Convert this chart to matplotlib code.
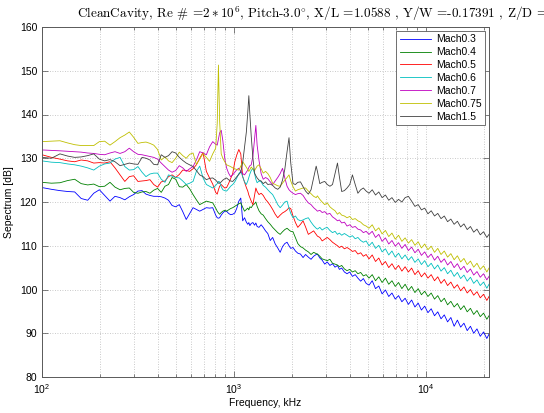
import matplotlib
matplotlib.use("Agg")
import matplotlib.pyplot as plt
from matplotlib.ticker import LogLocator, FixedLocator, NullFormatter

plt.rcParams['mathtext.fontset'] = 'cm'
plt.rcParams['font.family'] = ['Liberation Sans', 'DejaVu Sans']

freq_hz = [
    100, 112, 124, 136, 148, 160, 173, 186, 199, 212,
    226, 240, 255, 270, 285, 300, 316, 332, 348, 365,
    382, 400, 418, 437, 456, 476, 497, 519, 541, 564,
    588, 612, 637, 663, 690, 718, 746, 775, 803, 818,
    830, 842, 858, 875, 895, 915, 937, 960, 985,
    1010, 1035, 1060, 1085, 1110, 1135, 1160, 1180, 1195, 1210,
    1230, 1255, 1280, 1300, 1320, 1350, 1385, 1420, 1460, 1500,
    1545, 1590, 1640, 1690, 1740, 1790, 1840, 1890, 1935, 1975,
    2030, 2090, 2150, 2220, 2290, 2360, 2440, 2520, 2600, 2680,
    2720, 2800, 2880, 2970, 3060, 3160, 3260, 3360, 3460, 3540,
    3640, 3760, 3880, 4010, 4140, 4280, 4420, 4570, 4720, 4880,
    5050, 5250, 5460, 5680, 5910, 6150, 6400, 6650, 6920, 7200,
    7490, 7790, 8100, 8420, 8760, 9110, 9470, 9850, 10240, 10650,
    11080, 11520, 11980, 12460, 12960, 13480, 14020, 14580, 15160, 15770,
    16400, 17050, 17730, 18440, 19180, 19950, 20750, 21300,
]

mach_labels = ["Mach0.3", "Mach0.4", "Mach0.5", "Mach0.6", "Mach0.7", "Mach0.75", "Mach1.5"]

spl_mach03 = [
    123.3, 122.9, 122.6, 122.4, 122.3, 120.8, 120.4, 122.0, 122.8, 121.5,
    120.2, 121.3, 121.0, 120.5, 121.2, 121.7, 122.5, 122.6, 121.8, 121.5,
    121.3, 121.3, 121.2, 120.9, 120.4, 119.2, 118.9, 119.4, 117.8, 116.0,
    117.4, 118.7, 118.3, 117.9, 118.3, 118.7, 118.6, 118.7, 117.0, 116.4,
    116.3, 116.4, 117.0, 117.5, 117.9, 117.9, 117.4, 117.1, 117.2,
    117.5, 118.6, 120.2, 120.9, 115.7, 116.4, 115.4, 114.9, 115.3, 114.6,
    115.1, 115.3, 114.7, 115.2, 114.4, 114.2, 114.8, 114.2, 113.4, 112.8,
    111.2, 111.9, 110.4, 109.5, 108.5, 109.8, 110.5, 110.8, 110.0, 109.4,
    109.6, 108.8, 108.3, 108.1, 107.3, 108.0, 107.4, 106.9, 107.6, 108.0,
    108.1, 107.2, 106.7, 105.8, 106.3, 105.5, 105.9, 105.1, 105.5, 104.6,
    104.9, 104.0, 103.6, 104.0, 103.0, 103.4, 102.6, 101.9, 102.5, 101.4,
    101.0, 102.0, 100.2, 100.8, 99.0, 99.9, 98.4, 99.2, 97.8, 98.6,
    97.2, 98.0, 96.6, 97.6, 96.0, 96.9, 95.3, 96.2, 94.7, 95.6,
    94.0, 94.9, 93.3, 94.2, 92.6, 93.6, 91.6, 93.0, 91.4, 92.3,
    90.6, 91.6, 90.0, 91.0, 89.3, 90.3, 88.8, 89.8,
]

spl_mach04 = [
    124.5, 124.3, 124.4, 124.9, 125.2, 124.2, 123.9, 124.1, 123.5, 123.6,
    124.5, 123.4, 122.8, 123.1, 123.2, 122.2, 122.0, 122.3, 122.4, 122.0,
    122.7, 123.1, 122.2, 123.6, 124.0, 125.6, 125.2, 123.5, 123.4, 124.0,
    123.0, 121.7, 120.5, 119.4, 119.8, 120.2, 120.0, 119.8, 118.6, 117.9,
    117.5, 117.2, 117.6, 117.9, 118.1, 117.9, 118.2, 118.5, 118.7,
    119.0, 119.3, 119.6, 119.8, 118.8, 117.9, 118.3, 118.6, 118.2, 118.9,
    118.7, 119.3, 119.6, 120.0, 119.0, 118.0, 117.3, 117.0, 116.2, 115.5,
    114.9, 114.2, 113.6, 113.0, 112.6, 113.2, 113.7, 114.0, 113.6, 113.3,
    113.2, 111.8, 110.5, 109.8, 109.5, 109.0, 108.6, 108.0, 108.5, 108.2,
    108.1, 107.6, 107.0, 106.8, 106.6, 106.9, 106.0, 105.8, 105.6, 105.2,
    105.5, 104.7, 104.3, 104.6, 104.0, 104.3, 103.6, 103.9, 103.1, 103.4,
    102.6, 103.4, 102.0, 102.9, 101.6, 102.6, 101.2, 102.0, 100.7, 101.6,
    100.2, 101.2, 99.8, 100.7, 99.3, 100.2, 98.8, 99.6, 98.4, 99.2,
    97.8, 98.6, 97.2, 98.0, 96.5, 97.3, 96.0, 96.8, 95.4, 96.3,
    94.9, 95.7, 94.3, 95.2, 93.8, 94.6, 93.2, 94.0,
]

spl_mach05 = [
    130.8, 130.2, 129.8, 129.4, 129.2, 129.6, 129.4, 128.9, 129.0, 128.9,
    129.2, 127.8, 126.2, 124.7, 125.8, 126.0, 124.7, 124.8, 124.9, 125.1,
    124.0, 123.4, 124.6, 124.8, 125.8, 126.2, 125.6, 126.3, 127.3, 127.2,
    127.0, 127.6, 128.5, 130.0, 131.3, 127.0, 125.5, 124.1, 122.2, 121.8,
    122.8, 123.6, 124.0, 123.6, 123.2, 123.3, 124.2, 125.3, 126.5,
    129.2, 130.8, 132.0, 131.0, 125.8, 124.5, 123.3, 122.5, 121.6, 121.0,
    120.2, 119.4, 121.5, 123.2, 122.4, 121.7, 122.0, 121.5, 120.6, 120.0,
    119.2, 118.3, 117.2, 116.4, 117.0, 117.5, 117.8, 118.2, 118.7, 118.5,
    116.8, 115.3, 114.2, 114.9, 115.7, 114.3, 112.6, 113.0, 113.4, 112.6,
    112.2, 111.9, 111.1, 111.5, 111.9, 111.4, 110.8, 110.4, 110.0, 109.6,
    109.9, 109.3, 109.6, 109.2, 108.7, 108.9, 108.1, 108.4, 107.6, 108.0,
    107.0, 107.9, 106.4, 107.2, 105.6, 106.4, 105.0, 105.9, 104.6, 105.5,
    104.2, 105.2, 104.0, 104.9, 103.4, 104.3, 102.9, 103.8, 102.6, 103.4,
    102.0, 102.9, 101.4, 102.3, 100.9, 101.7, 100.3, 101.1, 99.7, 100.6,
    99.2, 100.0, 98.7, 99.5, 98.1, 98.9, 97.5, 98.4,
]

spl_mach06 = [
    129.4, 129.1, 129.0, 128.7, 128.5, 128.2, 127.8, 127.3, 128.2, 128.7,
    128.9, 129.8, 130.2, 128.1, 127.3, 127.4, 128.1, 126.8, 125.8, 126.4,
    126.6, 126.6, 125.2, 124.5, 126.2, 125.9, 125.6, 125.5, 124.8, 124.0,
    124.3, 124.7, 127.0, 128.2, 125.5, 124.0, 123.6, 123.2, 123.8, 124.2,
    124.7, 124.6, 123.5, 122.8, 122.6, 122.5, 123.0, 123.6, 124.0,
    124.6, 125.5, 126.5, 127.0, 125.8, 124.6, 124.0, 124.8, 125.6, 126.4,
    127.2, 127.7, 126.5, 125.2, 124.4, 124.8, 124.6, 123.8, 123.4, 122.8,
    122.2, 121.7, 120.6, 119.4, 118.7, 119.3, 120.0, 120.2, 118.6, 117.4,
    116.4, 116.8, 116.0, 115.7, 115.9, 116.2, 116.4, 115.4, 114.6, 114.0,
    113.8, 114.2, 113.6, 114.0, 114.2, 113.5, 113.0, 113.3, 112.6, 112.9,
    112.4, 112.8, 112.4, 112.0, 112.3, 111.6, 111.9, 111.2, 110.8, 111.1,
    110.0, 110.8, 109.4, 110.1, 108.6, 109.3, 107.9, 108.8, 107.4, 108.3,
    107.0, 107.9, 106.7, 107.5, 106.2, 107.0, 105.7, 106.6, 105.2, 106.0,
    104.7, 105.6, 104.2, 105.0, 103.6, 104.4, 103.0, 103.9, 102.5, 103.3,
    101.9, 102.8, 101.4, 102.2, 100.9, 101.7, 100.3, 101.2,
]

spl_mach07 = [
    131.9, 131.8, 131.7, 131.6, 131.5, 131.4, 131.2, 131.1, 130.9, 130.8,
    131.2, 131.5, 131.1, 131.5, 132.3, 131.5, 130.9, 130.8, 130.6, 130.4,
    130.2, 129.8, 128.9, 128.1, 127.3, 126.8, 127.2, 128.3, 127.8, 127.0,
    127.6, 128.1, 129.6, 131.5, 131.2, 130.8, 132.6, 133.8, 133.2, 133.0,
    134.4, 135.8, 136.4, 134.0, 130.0, 127.8, 126.6, 125.8, 126.2,
    126.8, 127.4, 127.7, 127.0, 126.5, 126.2, 126.8, 127.3, 127.9, 128.3,
    128.5, 130.5, 134.5, 137.5, 133.0, 129.5, 126.5, 125.2, 125.6, 125.3,
    124.6, 124.0, 124.8, 125.6, 126.5, 127.7, 125.5, 123.6, 122.8, 122.4,
    122.0, 121.7, 121.9, 122.0, 121.5, 120.6, 119.8, 119.4, 118.7, 118.2,
    117.9, 118.1, 117.6, 117.8, 117.2, 117.4, 116.6, 116.2, 115.7, 115.9,
    115.2, 115.4, 114.5, 114.8, 114.2, 114.4, 113.8, 113.6, 113.0, 113.3,
    112.6, 113.3, 111.9, 112.6, 111.0, 111.8, 110.4, 111.2, 109.9, 110.7,
    109.4, 110.3, 108.9, 109.7, 108.4, 109.2, 107.8, 108.6, 107.3, 108.1,
    106.7, 107.6, 106.2, 107.0, 105.6, 106.4, 105.0, 105.9, 104.5, 105.3,
    103.9, 104.7, 103.3, 104.1, 102.8, 103.6, 102.2, 103.0,
]

spl_mach075 = [
    133.8, 133.9, 134.0, 133.5, 133.1, 132.9, 132.9, 132.9, 133.8, 133.9,
    133.0, 133.8, 134.7, 135.3, 136.0, 134.8, 133.4, 133.6, 133.7, 133.4,
    133.0, 132.0, 129.6, 130.3, 129.4, 129.0, 130.0, 131.4, 130.6, 130.0,
    130.9, 131.2, 128.6, 129.8, 131.1, 130.2, 129.3, 131.0, 132.3, 138.0,
    151.3, 138.5, 131.0, 130.0, 129.2, 128.5, 128.3, 128.1, 127.8,
    127.6, 127.4, 127.3, 128.2, 129.2, 128.6, 127.9, 127.4, 127.0, 127.4,
    128.0, 127.5, 127.2, 127.7, 128.2, 128.5, 127.6, 126.6, 127.0, 126.5,
    125.6, 124.3, 124.0, 123.7, 123.6, 124.3, 125.0, 125.6, 126.2, 124.8,
    123.5, 122.5, 122.8, 123.0, 123.2, 123.2, 122.5, 121.9, 121.3, 121.0,
    121.4, 120.6, 120.0, 119.4, 119.8, 118.9, 118.4, 118.0, 117.2, 117.6,
    117.0, 116.8, 116.4, 116.7, 116.0, 116.2, 115.7, 115.4, 114.8, 114.5,
    114.0, 114.8, 113.4, 114.1, 112.7, 113.5, 112.1, 112.9, 111.5, 112.4,
    111.0, 111.8, 110.6, 111.4, 110.1, 110.9, 109.5, 110.4, 109.1, 109.9,
    108.5, 109.4, 108.0, 108.8, 107.4, 108.2, 106.8, 107.7, 106.3, 107.1,
    105.7, 106.5, 105.1, 106.0, 104.6, 105.4, 104.0, 104.9,
]

spl_mach15 = [
    130.2, 130.0, 131.0, 130.5, 130.2, 130.3, 130.6, 131.0, 129.8, 129.4,
    129.7, 129.2, 128.3, 128.6, 128.9, 128.7, 128.6, 130.2, 130.0, 129.6,
    128.6, 128.5, 130.8, 130.2, 130.6, 131.5, 131.2, 130.2, 129.5, 128.9,
    128.5, 128.1, 127.2, 126.2, 125.8, 125.1, 125.4, 125.5, 125.0, 124.6,
    124.3, 124.3, 124.6, 125.0, 125.3, 125.5, 125.1, 124.8, 124.7,
    125.2, 125.8, 126.3, 126.8, 129.0, 132.5, 136.0, 140.5, 144.3, 140.0,
    135.0, 130.0, 126.6, 126.0, 125.5, 125.0, 124.8, 124.2, 124.6, 124.0,
    124.1, 123.8, 123.2, 122.9, 123.4, 125.0, 127.5, 131.5, 134.7, 129.0,
    124.2, 124.0, 124.5, 124.6, 123.5, 122.5, 121.8, 122.8, 125.5, 128.2,
    127.0, 124.2, 124.5, 124.7, 124.0, 123.6, 124.0, 126.5, 128.9, 125.8,
    122.4, 122.6, 123.2, 124.0, 126.2, 124.0, 122.0, 122.8, 123.2, 122.5,
    122.0, 122.8, 121.6, 122.3, 121.0, 121.6, 120.4, 121.0, 119.9, 120.6,
    120.0, 121.0, 121.3, 120.2, 119.0, 119.4, 118.2, 118.6, 117.3, 118.0,
    116.8, 117.4, 116.2, 116.8, 115.5, 116.1, 114.9, 115.6, 114.3, 115.0,
    113.7, 114.4, 113.1, 113.8, 112.5, 113.2, 111.9, 112.6,
]

series = [spl_mach03, spl_mach04, spl_mach05, spl_mach06, spl_mach07, spl_mach075, spl_mach15]
colors = [(0, 0, 1), (0, 0.5, 0), (1, 0, 0), (0, 0.75, 0.75),
          (0.75, 0, 0.75), (0.75, 0.75, 0), (0.25, 0.25, 0.25)]

W, H = 544, 413
fig = plt.figure(figsize=(W / 100, H / 100), dpi=100)
ax = fig.add_axes([42 / W, (H - 377) / H, (489 - 42) / W, (377 - 27) / H])

for vals, lab, col in zip(series, mach_labels, colors):
    ax.plot(freq_hz, vals, color=col, lw=0.6, label=lab)

ax.set_xscale('log')
ax.set_xlim(100, 21300)
ax.set_ylim(80, 160)
ax.yaxis.set_major_locator(FixedLocator(list(range(80, 161, 10))))
ax.xaxis.set_major_locator(LogLocator(base=10, numticks=10))
ax.xaxis.set_minor_locator(LogLocator(base=10, subs=range(2, 10), numticks=50))
ax.xaxis.set_minor_formatter(NullFormatter())

ax.grid(True, which='major', axis='both', linestyle=(0, (1, 2)), color='0.72', lw=0.6)
ax.grid(True, which='minor', axis='x', linestyle=(0, (1, 2)), color='0.72', lw=0.6)
ax.set_axisbelow(True)

ax.tick_params(which='both', direction='in', top=True, right=True, labelsize=7.5,
               color='0.3', width=0.5)
ax.tick_params(which='major', length=4)
ax.tick_params(which='minor', length=2)
for s in ax.spines.values():
    s.set_color('0.35')
    s.set_linewidth(0.7)

ax.set_xlabel('Frequency, kHz', fontsize=7.5, labelpad=2)
ax.set_ylabel('Sepectrum [dB]', fontsize=7.5, labelpad=4)

leg = ax.legend(loc='upper right', fontsize=7.5, handlelength=3.0, labelspacing=0.28,
                borderaxespad=0.35, fancybox=False, framealpha=1, borderpad=0.35,
                handletextpad=0.5)
leg.get_frame().set_edgecolor('0.35')
leg.get_frame().set_linewidth(0.6)

title = (r"CleanCavity, Re # =$2*10^{6}$, Pitch-3.0$^{\circ}$, X/L =1.0588 , "
         r"Y/W =-0.17391 , Z/D =0.0435")
fig.text(77 / W, (H - 18) / H, title, family='cmr10', fontsize=9.5,
         ha='left', va='baseline')

fig.savefig('out.png', dpi=100)
